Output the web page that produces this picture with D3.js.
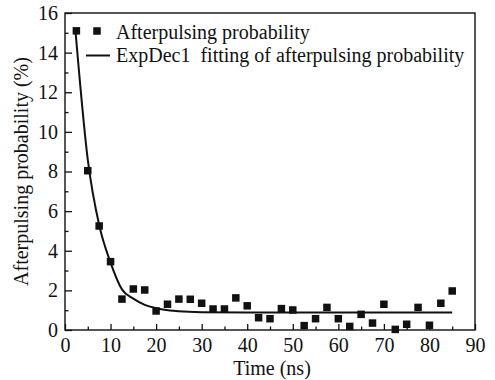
<!DOCTYPE html>
<html>
<head>
<meta charset="utf-8">
<script src="https://cdn.jsdelivr.net/npm/d3@7"></script>
<style>
  body { margin: 0; background: #fff; }
</style>
</head>
<body>
<div id="viz"></div>
<script>
const width = 495;
const height = 380;
const margin = {top: 13, right: 20, bottom: 50, left: 65};
const serif = '"Liberation Serif", "Times New Roman", serif';

// measured afterpulsing probability
const timeNs = [2.5, 5, 7.5, 10, 12.5, 15, 17.5, 20, 22.5, 25, 27.5, 30, 32.5, 35, 37.5, 40, 42.5,
  45, 47.5, 50, 52.5, 55, 57.5, 60, 62.5, 65, 67.5, 70, 72.5, 75, 77.5, 80, 82.5, 85];
const probability = [15.1, 8.04, 5.25, 3.45, 1.56, 2.07, 2.02, 0.96, 1.3, 1.56, 1.55, 1.35, 1.06, 1.06, 1.62, 1.22, 0.62,
  0.57, 1.08, 1.01, 0.22, 0.57, 1.14, 0.57, 0.18, 0.79, 0.35, 1.3, 0.03, 0.29, 1.14, 0.24, 1.35, 1.97];

// ExpDec1 fit curve
const fitTime = [2.3, 5, 7.5, 10, 12.5, 15, 17.5, 20, 25, 30, 40, 85];
const fitProb = [15.1, 8.6, 5.3, 3.4, 2.05, 1.58, 1.27, 1.1, 0.95, 0.9, 0.88, 0.88];

const xTicks = [0, 10, 20, 30, 40, 50, 60, 70, 80, 90];
const xMinor = [5, 15, 25, 35, 45, 55, 65, 75, 85];
const yTicks = [0, 2, 4, 6, 8, 10, 12, 14, 16];
const yMinor = [1, 3, 5, 7, 9, 11, 13, 15];
const legendLabels = ['Afterpulsing probability', 'ExpDec1  fitting of afterpulsing probability'];

const svg = d3.select('#viz')
  .append('svg')
  .attr('width', width)
  .attr('height', height);

const x = d3.scaleLinear().domain([0, 90]).range([margin.left, width - margin.right]);
const y = d3.scaleLinear().domain([0, 16]).range([height - margin.bottom, margin.top]);

// frame
svg.append('rect')
  .attr('x', x(0)).attr('y', y(16))
  .attr('width', x(90) - x(0)).attr('height', y(0) - y(16))
  .attr('fill', 'none').attr('stroke', '#111').attr('stroke-width', 1.4);

const styleAxis = g => {
  g.select('.domain').remove();
  g.selectAll('line').attr('stroke', '#111').attr('stroke-width', 1.3);
  g.selectAll('text')
    .attr('font-size', 20)
    .attr('fill', '#111')
    .style('font-family', serif);
};

svg.append('g')
  .attr('transform', `translate(0,${y(0)})`)
  .call(d3.axisBottom(x).tickValues(xTicks).tickSizeInner(-6).tickSizeOuter(0).tickPadding(8))
  .call(styleAxis);
svg.append('g')
  .attr('transform', `translate(0,${y(0)})`)
  .call(d3.axisBottom(x).tickValues(xMinor).tickFormat('').tickSizeInner(-3.5).tickSizeOuter(0))
  .call(styleAxis);

svg.append('g')
  .attr('transform', `translate(${x(0)},0)`)
  .call(d3.axisLeft(y).tickValues(yTicks).tickSizeInner(-7).tickSizeOuter(0).tickPadding(7))
  .call(styleAxis);
svg.append('g')
  .attr('transform', `translate(${x(0)},0)`)
  .call(d3.axisLeft(y).tickValues(yMinor).tickFormat('').tickSizeInner(-3.5).tickSizeOuter(0))
  .call(styleAxis);

// axis titles
svg.append('text')
  .attr('x', (x(0) + x(90)) / 2 + 2)
  .attr('y', 375)
  .attr('text-anchor', 'middle')
  .attr('font-size', 20)
  .attr('fill', '#111')
  .style('font-family', serif)
  .text('Time (ns)');

svg.append('text')
  .attr('transform', `translate(28,${(y(0) + y(16)) / 2}) rotate(-90)`)
  .attr('text-anchor', 'middle')
  .attr('font-size', 20)
  .attr('fill', '#111')
  .style('font-family', serif)
  .text('Afterpulsing probability (%)');

// fit line
const line = d3.line()
  .x((d, i) => x(fitTime[i]))
  .y(d => y(d))
  .curve(d3.curveMonotoneX);

svg.append('path')
  .datum(fitProb)
  .attr('d', line)
  .attr('fill', 'none')
  .attr('stroke', '#111')
  .attr('stroke-width', 2);

// data squares
const sq = 7.5;
svg.append('g')
  .selectAll('rect')
  .data(probability)
  .join('rect')
  .attr('x', (d, i) => x(timeNs[i]) - sq / 2)
  .attr('y', d => y(d) - sq / 2)
  .attr('width', sq)
  .attr('height', sq)
  .attr('fill', '#111');

// legend
const legend = svg.append('g').attr('transform', 'translate(97,0)');
legend.append('rect')
  .attr('x', -sq / 2).attr('y', 31 - sq / 2)
  .attr('width', sq).attr('height', sq)
  .attr('fill', '#111');
legend.append('line')
  .attr('x1', -11).attr('x2', 13)
  .attr('y1', 55.5).attr('y2', 55.5)
  .attr('stroke', '#111').attr('stroke-width', 2);
legend.selectAll('text.lab')
  .data(legendLabels)
  .join('text')
  .attr('class', 'lab')
  .attr('x', 19)
  .attr('y', (d, i) => 38.5 + i * 23.5)
  .attr('font-size', 20)
  .attr('fill', '#111')
  .style('font-family', serif)
  .style('white-space', 'pre')
  .text(d => d);
</script>
</body>
</html>
